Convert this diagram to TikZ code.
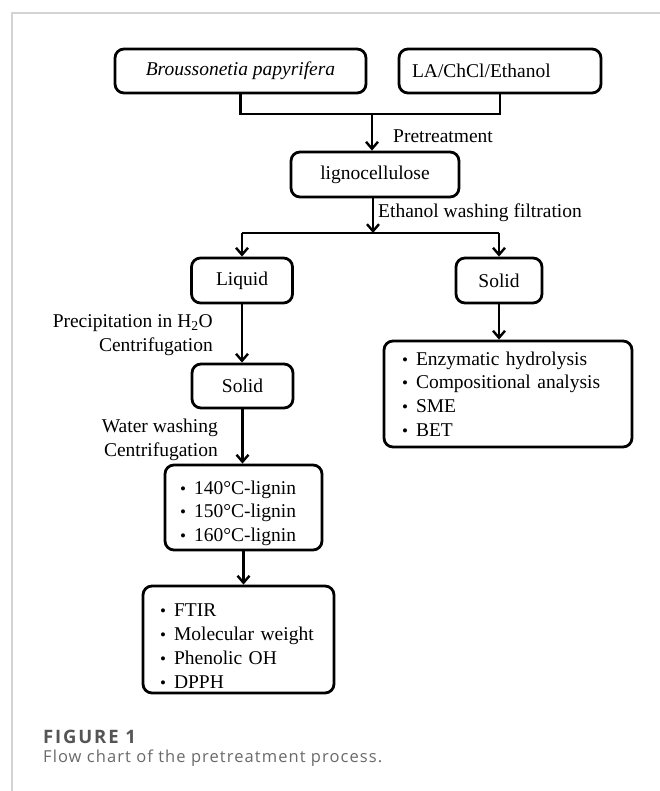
\documentclass[tikz,border=0pt]{standalone}
\usepackage{fontspec}
\setmainfont{Liberation Serif}
\newfontfamily\capfont[LetterSpace=6.5]{Open Sans}
\newfontfamily\figfont[LetterSpace=10]{Open Sans}
\usetikzlibrary{arrows.meta}
\definecolor{framegray}{HTML}{D3D3D3}
\definecolor{capdark}{HTML}{555555}
\definecolor{caplight}{HTML}{6A6A6A}
\newcommand\mybul{\makebox[14pt][l]{\fontsize{17}{17}\selectfont•}}
\begin{document}
\begin{tikzpicture}[x=1pt,y=-1pt,
  box/.style={draw, line width=2.8pt, rounded corners=9pt, inner sep=0pt, font=\fontsize{19.5}{23.7}\selectfont},
  lbl/.style={inner sep=0pt, font=\fontsize{19.5}{23.7}\selectfont},
  conn/.style={line width=2.4pt},
  arr/.style={line width=2.4pt, -{Straight Barb[length=7pt,width=12pt]}}]
\useasboundingbox (0,0) rectangle (660,791);
\fill[white] (0,0) rectangle (660,791);
\draw[framegray, line width=1.5pt] (12,791) -- (12,13) -- (660,13);

\node[box, minimum width=251pt, minimum height=44pt] (bp) at (240.5,71) {\itshape Broussonetia papyrifera};
\node[box, minimum width=202pt, minimum height=44pt, text width=176pt, align=left] (la) at (500,71) {LA/ChCl/Ethanol};
\node[box, minimum width=168pt, minimum height=45pt] (lig) at (375,174.5) {lignocellulose};
\node[box, minimum width=101pt, minimum height=45pt] (liq) at (242,280.5) {Liquid};
\node[box, minimum width=86pt, minimum height=45pt] (sr) at (499,280.5) {Solid};
\node[box, minimum width=101pt, minimum height=44pt] (sl) at (242.5,386) {Solid};
\node[box, minimum width=157pt, minimum height=85pt, text width=127pt, align=left] (temp) at (243.5,507.5)
  {\rule{0pt}{25pt}\mybul 140°C-lignin\\\mybul 150°C-lignin\\\mybul 160°C-lignin};
\node[box, minimum width=191pt, minimum height=107pt, text width=157pt, align=left] (ftir) at (238.5,639.5)
  {\rule{0pt}{26pt}\mybul FTIR\\\mybul Molecular weight\\\mybul Phenolic OH\\\mybul DPPH};
\node[box, minimum width=248pt, minimum height=106pt, text width=212pt, align=left] (ana) at (508,394)
  {\mybul Enzymatic hydrolysis\\\mybul Compositional analysis\\\mybul SME\\\mybul BET};

\node[lbl, anchor=west] (pre) at (393,136) {Pretreatment};
\node[lbl, anchor=west] (ewf) at (378,213) {Ethanol washing filtration};
\node[lbl, anchor=east, align=right] (pc) at (213,335) {Precipitation in H\textsubscript{2}O\\Centrifugation};
\node[lbl, anchor=east, align=right] (wc) at (218,439.5) {Water washing\\Centrifugation};

\coordinate (m) at (372,114);
\draw[conn] (bp.south) -- (bp.south |- m) -- (la.south |- m) -- (la.south);
\draw[arr] (m) -- (m |- lig.north);
\coordinate (s) at (373,233);
\draw[arr] (lig.south -| s) -- (s);
\draw[conn] (liq.north |- s) -- (sr.north |- s);
\draw[arr] (liq.north |- s) -- (liq.north);
\draw[arr] (sr.north |- s) -- (sr.north);
\draw[arr] (liq.south) -- (liq.south |- sl.north);
\draw[arr] (sl.south) -- (sl.south |- temp.north);
\draw[arr] (temp.south) -- (temp.south |- ftir.north);
\draw[arr] (sr.south) -- (sr.south |- ana.north);

\node[anchor=west, inner sep=0pt, font=\fontsize{18.5}{20}\figfont\bfseries, text=capdark] (fig) at (43,736.5) {FIGURE 1};
\node[anchor=west, inner sep=0pt, font=\fontsize{16.5}{18}\capfont, text=caplight] (cap) at (43,758) {Flow chart of the pretreatment process.};
\end{tikzpicture}
\end{document}
